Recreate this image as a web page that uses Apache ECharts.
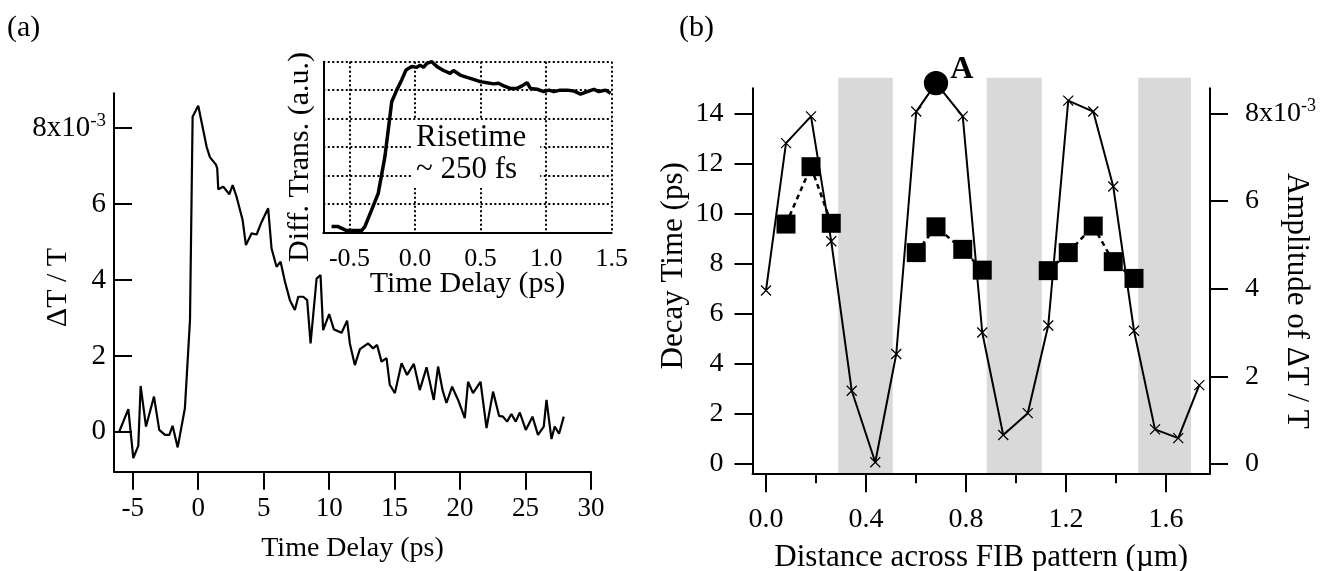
<!DOCTYPE html>
<html><head><meta charset="utf-8">
<script src="https://cdn.jsdelivr.net/npm/echarts@6/dist/echarts.min.js"></script>
<style>html,body{margin:0;padding:0;background:#fff}#c{width:1326px;height:571px}</style>
</head><body><div id="c"></div>
<script>
const FONT = 'Liberation Serif';
// ---------- Panel (a): main transient ----------
const mainTime = [-6.03,-5.34,-4.96,-4.58,-4.4,-3.99,-3.38,-2.98,-2.54,-2.21,-1.96,-1.57,-1.02,-0.63,-0.43,0.0,
  0.64,0.89,1.35,1.45,1.53,1.91,2.37,2.63,2.93,3.39,3.64,4.08,4.46,4.84,5.34,5.6,5.98,6.29,6.62,
  7.0,7.38,7.64,8.02,8.32,8.58,9.04,9.34,9.54,10.0,10.36,10.95,11.37,11.58,11.96,12.35,12.98,13.36,13.66,14.0,
  14.38,14.63,15.02,15.53,15.95,16.47,16.92,17.44,17.99,18.32,18.66,18.96,19.39,19.85,20.36,20.61,20.99,21.56,22.02,22.52,
  22.98,23.28,23.59,23.92,24.25,24.56,25.02,25.53,25.95,26.39,26.6,26.98,27.23,27.56,27.92];
const mainDT = [0.01,0.6,-0.69,-0.37,1.21,0.14,0.93,0.05,-0.08,-0.08,0.16,-0.41,0.62,2.95,8.3,8.59,
  7.51,7.24,7.04,6.94,6.39,6.46,6.26,6.5,6.19,5.58,4.92,5.23,5.2,5.53,5.89,4.83,4.35,4.48,3.96,
  3.47,3.21,3.56,3.56,3.47,2.33,4.04,4.13,2.68,3.1,2.7,2.61,2.93,2.33,1.76,2.18,2.33,2.2,2.29,1.85,
  1.94,1.24,1.02,1.81,1.5,1.79,1.1,1.70,0.84,1.72,1.1,0.76,1.19,0.84,0.36,1.32,1.02,1.32,0.1,1.06,
  0.42,0.4,0.27,0.47,0.27,0.51,0.05,0.4,-0.08,0.14,0.84,-0.19,0.14,-0.05,0.4];
const mainXTicks = [-5,0,5,10,15,20,25,30];
const mainYTicks = [0,2,4,6,8];
// ---------- Panel (a): inset rise ----------
const insetTime = [-0.637,-0.587,-0.523,-0.408,-0.383,-0.332,-0.281,-0.23,-0.178,-0.14,-0.102,-0.069,-0.025,0.013,0.038,
  0.064,0.09,0.128,0.166,0.217,0.268,0.293,0.344,0.396,0.446,0.497,0.549,0.6,0.637,0.676,0.727,0.778,0.816,0.855,0.88,
  0.931,0.982,1.02,1.058,1.109,1.16,1.211,1.262,1.314,1.364,1.403,1.454,1.492];
const insetSignal = [0.2,0.2,0.06,0.06,0.2,0.78,1.37,2.66,4.59,5.0,5.36,5.71,5.83,5.8,5.88,
  5.8,5.94,6.0,5.83,5.69,5.59,5.69,5.53,5.45,5.38,5.3,5.26,5.22,5.24,5.15,5.06,5.06,5.15,5.26,5.06,
  5.03,4.95,5.0,4.95,5.0,5.0,4.97,4.86,4.95,5.03,4.95,5.0,4.89];
const insetXTicks = [-0.5,0,0.5,1,1.5];
// ---------- Panel (b) ----------
const ampX = [0,0.08,0.18,0.261,0.343,0.437,0.521,0.601,0.68,0.787,0.865,0.949,1.047,1.129,1.209,1.309,1.389,1.472,1.556,1.649,1.733];
const ampY = [3.96,7.32,7.93,5.08,1.67,0.04,2.51,8.04,8.69,7.93,3.0,0.66,1.16,3.16,8.29,8.04,6.33,3.04,0.79,0.59,1.80];
const pointAIndex = 8;
const decayX = [0.08,0.18,0.261,0.601,0.68,0.787,0.865,1.129,1.209,1.309,1.389,1.472];
const decayY = [9.58,11.87,9.61,8.44,9.47,8.57,7.74,7.72,8.44,9.50,8.08,7.41];
const decayGroup = [1,1,1,2,2,2,2,3,3,3,3,3];
const bandStart = [0.289,0.883,1.489];
const bandEnd = [0.507,1.103,1.70];
const bXTicks = [0,0.4,0.8,1.2,1.6];
const bXMinor = [0.2,0.6,1.0,1.4];
const bLeftTicks = [0,2,4,6,8,10,12,14];
const bRightTicks = [0,2,4,6,8];

const BX = [-0.054, 1.776];
const black = '#000';
const txt = (s) => Object.assign({fontFamily: FONT, color: black}, s);
const sci = v => v === 8 ? '{m|8x10}{s|-3}' : String(v);
const sciRich = (fs) => ({m: {fontSize: fs, fontFamily: FONT, color: black, lineHeight: fs + 4},
  s: {fontSize: Math.round(fs * 0.65), fontFamily: FONT, color: black, verticalAlign: 'top', lineHeight: fs + 4}});
const line2 = {onZero: false, lineStyle: {color: black, width: 2}};
const dotted = {show: true, lineStyle: {color: black, width: 2, type: [2, 2.5]}};

const decayData = [];
decayX.forEach((x, i) => {
  if (i > 0 && decayGroup[i] !== decayGroup[i - 1]) decayData.push(['-', '-']);
  decayData.push([x, decayY[i]]);
});
const crossPath = 'path://M0,0L10,10M0,10L10,0';
const ampData = ampX.map((x, i) => i === pointAIndex ? {
  value: [x, ampY[i]], symbol: 'circle', symbolSize: 23, itemStyle: {color: black},
  label: {show: true, formatter: 'A', position: 'right', distance: 2, offset: [0, -13],
    fontFamily: FONT, fontWeight: 'bold', fontSize: 32, color: black}
} : {value: [x, ampY[i]]});

const chart = echarts.init(document.getElementById('c'), null, {renderer: 'canvas'});
chart.setOption({
  animation: false,
  backgroundColor: '#fff',
  title: [
    {text: '(a)', left: 7, top: 11, padding: 0, textStyle: txt({fontSize: 30, fontWeight: 'normal', lineHeight: 34})},
    {text: '(b)', left: 679, top: 11, padding: 0, textStyle: txt({fontSize: 30, fontWeight: 'normal', lineHeight: 34})},
    {text: 'Risetime\n~ 250 fs', left: 413, top: 120, padding: [2, 14, 2, 3], backgroundColor: '#fff', z: 10,
      textStyle: txt({fontSize: 31, fontWeight: 'normal', lineHeight: 32})}
  ],
  grid: [
    {left: 114, top: 93.3, width: 477, height: 378.4, outerBoundsMode: 'none', containLabel: false},
    {left: 323.3, top: 61.7, width: 288.4, height: 170.6, outerBoundsMode: 'none', containLabel: false},
    {left: 752.5, top: 88.3, width: 457.5, height: 385, outerBoundsMode: 'none', containLabel: false},
    {left: 752.5, top: 77.7, width: 457.5, height: 395.6, outerBoundsMode: 'none', containLabel: false}
  ],
  xAxis: [
    {gridIndex: 0, type: 'value', min: -6.435, max: 30, axisLine: line2,
      axisTick: {customValues: mainXTicks, length: 18, lineStyle: {color: black, width: 2}},
      axisLabel: {customValues: mainXTicks, margin: 24, fontSize: 27, fontFamily: FONT, color: black},
      splitLine: {show: false}, nameMoveOverlap: false,
      name: 'Time Delay (ps)', nameLocation: 'middle', nameGap: 63, nameTextStyle: txt({fontSize: 28})},
    {gridIndex: 1, type: 'value', min: -0.7, max: 1.5, axisLine: line2,
      axisTick: {show: false, customValues: insetXTicks},
      axisLabel: {customValues: insetXTicks, margin: 14, fontSize: 26, fontFamily: FONT, color: black,
        formatter: v => v.toFixed(1)},
      splitLine: dotted, nameMoveOverlap: false,
      name: 'Time Delay (ps)', nameLocation: 'middle', nameGap: 37, nameTextStyle: txt({fontSize: 30})},
    {gridIndex: 2, type: 'value', min: BX[0], max: BX[1], z: 5, axisLine: line2,
      axisTick: {customValues: bXTicks, length: 19, lineStyle: {color: black, width: 2}},
      axisLabel: {customValues: bXTicks, margin: 32, fontSize: 28, fontFamily: FONT, color: black,
        formatter: v => v.toFixed(1)},
      splitLine: {show: false}, nameMoveOverlap: false,
      name: 'Distance across FIB pattern (\u00b5m)', nameLocation: 'middle', nameGap: 69, nameTextStyle: txt({fontSize: 31})},
    {gridIndex: 2, type: 'value', min: BX[0], max: BX[1], position: 'bottom', z: 5,
      axisLine: {show: false, onZero: false},
      axisTick: {customValues: bXMinor, length: 10, lineStyle: {color: black, width: 2}},
      axisLabel: {show: false}, splitLine: {show: false}},
    {gridIndex: 3, type: 'value', min: BX[0], max: BX[1], show: false}
  ],
  yAxis: [
    {gridIndex: 0, type: 'value', min: -1.05, max: 8.92, axisLine: Object.assign({show: true}, line2),
      axisTick: {inside: true, customValues: mainYTicks, length: 18, lineStyle: {color: black, width: 2}},
      axisLabel: {customValues: mainYTicks, margin: 8, fontSize: 29, fontFamily: FONT, color: black,
        formatter: sci, rich: sciRich(29)},
      splitLine: {show: false}, nameMoveOverlap: false,
      name: '\u0394T / T', nameLocation: 'middle', nameRotate: 90, nameGap: 41,
      nameTextStyle: txt({fontSize: 30, padding: [0, 10, 0, 0]})},
    {gridIndex: 1, type: 'value', min: 0, max: 6, interval: 1, axisLine: Object.assign({show: true}, line2),
      axisTick: {show: false}, axisLabel: {show: false},
      splitLine: dotted, nameMoveOverlap: false,
      name: 'Diff. Trans. (a.u.)', nameLocation: 'middle', nameRotate: 90, nameGap: 8,
      nameTextStyle: txt({fontSize: 30, padding: [0, 20, 0, 0]})},
    {gridIndex: 2, type: 'value', min: -0.371, max: 15, position: 'left', z: 5, axisLine: Object.assign({show: true}, line2),
      axisTick: {customValues: bLeftTicks, length: 18, lineStyle: {color: black, width: 2}},
      axisLabel: {customValues: bLeftTicks, margin: 29, fontSize: 28, fontFamily: FONT, color: black},
      splitLine: {show: false}, nameMoveOverlap: false,
      name: 'Decay Time (ps)', nameLocation: 'middle', nameRotate: 90, nameGap: 63,
      nameTextStyle: txt({fontSize: 31, padding: [0, 0, 0, 30]})},
    {gridIndex: 2, type: 'value', min: -0.212, max: 8.571, position: 'right', z: 5, axisLine: Object.assign({show: true}, line2),
      axisTick: {customValues: bRightTicks, length: 18, lineStyle: {color: black, width: 2}},
      axisLabel: {customValues: bRightTicks, margin: 35, fontSize: 28, fontFamily: FONT, color: black,
        formatter: sci, rich: sciRich(28)},
      splitLine: {show: false}, nameMoveOverlap: false,
      name: 'Amplitude of \u0394T / T', nameLocation: 'middle', nameRotate: -90, nameGap: 71,
      nameTextStyle: txt({fontSize: 31, padding: [0, 0, 0, 40]})},
    {gridIndex: 3, type: 'value', min: 0, max: 1, show: false}
  ],
  series: [
    {type: 'line', xAxisIndex: 0, yAxisIndex: 0, data: mainTime.map((t, i) => [t, mainDT[i]]),
      symbol: 'none', lineStyle: {color: black, width: 2.2}, clip: false},
    {type: 'line', xAxisIndex: 1, yAxisIndex: 1, data: insetTime.map((t, i) => [t, insetSignal[i]]),
      symbol: 'none', lineStyle: {color: black, width: 3.5}, clip: false},
    {type: 'custom', xAxisIndex: 4, yAxisIndex: 4, z: 0, silent: true,
      data: bandStart.map((s, i) => [s, bandEnd[i]]),
      encode: {x: [0, 1]},
      renderItem: (params, api) => {
        const a = api.coord([api.value(0), 1]);
        const b = api.coord([api.value(1), 0]);
        return {type: 'rect', shape: {x: a[0], y: a[1], width: b[0] - a[0], height: b[1] - a[1]},
          style: {fill: '#d9d9d9'}};
      }},
    {type: 'line', xAxisIndex: 2, yAxisIndex: 3, data: ampData, z: 3, clip: false,
      symbol: crossPath, symbolSize: 10, showAllSymbol: true,
      itemStyle: {color: black, borderColor: black, borderWidth: 1.3},
      lineStyle: {color: black, width: 2}},
    {type: 'line', xAxisIndex: 2, yAxisIndex: 2, data: decayData, z: 4, clip: false,
      symbol: 'rect', symbolSize: 19, showAllSymbol: true, connectNulls: false,
      itemStyle: {color: black},
      lineStyle: {color: black, width: 2.5, type: [5, 4]}}
  ]
});
</script></body></html>
